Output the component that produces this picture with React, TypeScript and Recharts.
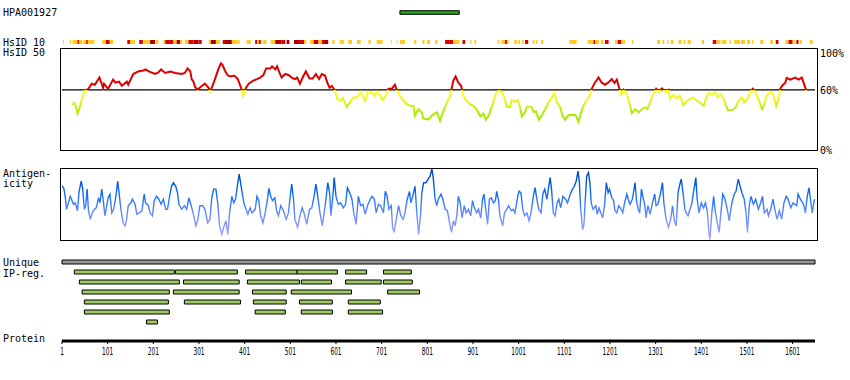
import React from "react";
import { ComposedChart, Line, XAxis, YAxis, ReferenceArea, ReferenceLine } from "recharts";

const PROTEIN_LENGTH = 1650;
const CHART_W = 850;
const PLOT_LEFT = 62;
const PLOT_RIGHT = 35;
const MONO = "'DejaVu Sans Mono', monospace";

// antigen fragment (residue range)
const hpaAntigen: [number, number] = [741, 871];

// HsID 10 stretches: [start, end, level] 1 = yellow, 2 = red, 3 = dark red
const hsid10Segments: [number, number, number][] = [
  [3, 5, 1], [18, 21, 1], [24, 46, 1], [35, 38, 2], [48, 72, 1], [54, 57, 2],
  [89, 113, 1], [97, 105, 2], [144, 150, 2], [150, 161, 1], [170, 178, 2], [179, 194, 1],
  [194, 205, 3], [207, 212, 1], [223, 227, 1], [227, 245, 2], [245, 252, 1], [252, 260, 3],
  [260, 265, 1], [270, 278, 1], [278, 289, 2], [289, 300, 3], [300, 307, 2], [322, 327, 1],
  [327, 338, 3], [338, 347, 1], [353, 358, 2], [358, 373, 3], [373, 384, 1], [385, 390, 1],
  [405, 414, 1], [424, 428, 2], [428, 439, 1], [432, 436, 2], [441, 449, 1], [458, 468, 1],
  [468, 482, 3], [482, 490, 2], [493, 499, 3], [509, 522, 3], [522, 531, 2], [531, 536, 1],
  [544, 552, 1], [552, 563, 2], [563, 570, 1], [570, 580, 2], [576, 584, 3], [593, 598, 1],
  [609, 619, 1], [628, 636, 1], [647, 655, 1], [672, 677, 1], [690, 703, 1], [721, 723, 1],
  [734, 736, 1], [741, 752, 1], [772, 777, 1], [790, 795, 1], [800, 807, 1], [818, 823, 1],
  [840, 858, 2], [858, 871, 1], [878, 884, 2], [895, 898, 1], [904, 908, 1], [955, 959, 1],
  [963, 979, 1], [971, 975, 2], [991, 997, 1], [1000, 1004, 1], [1008, 1012, 1], [1015, 1022, 2],
  [1032, 1036, 1], [1039, 1042, 1], [1050, 1055, 1], [1112, 1128, 1], [1152, 1165, 1],
  [1165, 1169, 2], [1170, 1177, 1], [1181, 1187, 1], [1190, 1198, 2], [1212, 1218, 1],
  [1218, 1226, 2], [1226, 1234, 1], [1249, 1252, 1], [1304, 1311, 1], [1316, 1320, 1],
  [1326, 1329, 1], [1334, 1340, 1], [1351, 1358, 1], [1362, 1366, 1], [1371, 1378, 1],
  [1402, 1407, 1], [1426, 1434, 2], [1435, 1443, 1], [1446, 1456, 1], [1463, 1466, 1],
  [1473, 1486, 1], [1488, 1497, 1], [1501, 1508, 1], [1512, 1515, 1], [1530, 1537, 1],
  [1552, 1558, 1], [1564, 1570, 2], [1585, 1592, 1], [1592, 1601, 2], [1601, 1607, 1],
  [1609, 1614, 2], [1617, 1621, 1], [1639, 1645, 1],
];
const hsid10Colors = ["", "#ffcc22", "#dd0000", "#aa0000"];

// HsID 50 (% identity), [residue, value]
const hsid50: [number, number][] = [
  [24, 45], [28, 47.6], [30, 46], [35, 37], [40, 43], [45, 52], [51, 59], [59, 61], [66, 66], [73, 65],
  [83, 72], [91, 62], [93, 66], [102, 61], [113, 70], [118, 67], [126, 68], [132, 64], [143, 68], [146, 65],
  [157, 75.5], [168, 78], [179, 79], [184, 80], [191, 78], [205, 75.5], [212, 77], [218, 80], [227, 76.5],
  [238, 78], [249, 76.5], [263, 75.5], [270, 76.5], [276, 81], [282, 78], [285, 70.5], [289, 68], [292, 63],
  [298, 60], [305, 63], [314, 66], [322, 62], [325, 58], [330, 63], [336, 70.5], [343, 79.7], [349, 86],
  [352, 85], [358, 78.7], [364, 74], [371, 73], [378, 74], [386, 70.5], [393, 62], [398, 54], [404, 62],
  [410, 66], [420, 69], [428, 70.5], [435, 72], [442, 74.5], [448, 81], [457, 81], [461, 83], [468, 80],
  [472, 83], [477, 77], [482, 72], [490, 75.5], [497, 74.5], [504, 72], [511, 70.5], [516, 72], [522, 66],
  [528, 72], [535, 78], [543, 71], [550, 71], [557, 75.5], [564, 70.5], [570, 75.5], [577, 74], [582, 67],
  [587, 62], [592, 63.7], [599, 59], [604, 51], [612, 49], [616, 52], [625, 43], [630, 47], [639, 52.5],
  [646, 52.5], [655, 58], [665, 49], [670, 57], [680, 57.5], [685, 54], [690, 58], [697, 55], [703, 50],
  [711, 55], [716, 61], [723, 61], [730, 65], [734, 60], [741, 54], [748, 50], [756, 46], [765, 44],
  [771, 44], [774, 34.6], [781, 41], [789, 38], [792, 32], [803, 31], [814, 36], [822, 38], [829, 29.7],
  [835, 38], [844, 47.6], [851, 54], [858, 69], [863, 73], [869, 67], [875, 64], [880, 54], [887, 49],
  [895, 46], [902, 44], [909, 41], [917, 34], [924, 36.6], [929, 30.7], [936, 35], [944, 46], [951, 56],
  [957, 59], [964, 58], [970, 52], [975, 43.7], [982, 43], [986, 50], [993, 48], [999, 50], [1004, 43],
  [1008, 34], [1015, 38], [1019, 43.5], [1029, 43.5], [1034, 38], [1039, 39], [1045, 30.7], [1052, 35],
  [1059, 41], [1066, 47.6], [1074, 52.5], [1079, 57], [1085, 47.6], [1092, 43], [1097, 34.6], [1103, 30.7],
  [1110, 35], [1121, 35.6], [1126, 35], [1132, 28.7], [1138, 38], [1143, 44.4], [1150, 50], [1158, 55],
  [1161, 61], [1168, 67], [1176, 72], [1183, 67], [1190, 65], [1197, 67], [1205, 70.5], [1211, 66.7],
  [1216, 70], [1221, 62], [1226, 55], [1231, 60], [1238, 56], [1244, 46], [1249, 37], [1256, 41],
  [1264, 38], [1271, 41], [1278, 43], [1283, 41], [1289, 47.6], [1295, 55], [1302, 61], [1307, 58],
  [1315, 61.4], [1322, 58], [1329, 60], [1333, 51], [1340, 55], [1347, 51.6], [1354, 54], [1362, 45],
  [1369, 49], [1376, 51], [1384, 52.5], [1391, 49], [1398, 47.6], [1406, 44.4], [1411, 51], [1417, 57],
  [1424, 55], [1432, 57.5], [1437, 52.5], [1444, 56], [1450, 51], [1455, 44.4], [1460, 39.5], [1470, 40.5],
  [1477, 43], [1482, 49], [1490, 52.5], [1495, 47.6], [1502, 51], [1508, 57.5], [1514, 61], [1519, 58],
  [1526, 51], [1534, 41], [1539, 46], [1544, 54], [1552, 58], [1558, 56], [1565, 44.4], [1570, 51],
  [1574, 61], [1578, 64], [1585, 67], [1588, 71.6], [1596, 70], [1601, 71], [1607, 72], [1614, 70],
  [1621, 72], [1625, 67], [1631, 59],
];

// antigenicity (relative score 0-100), [residue, value]
const antigenicity: [number, number][] = [
  [1, 77], [5, 73], [8, 62], [11, 44], [15, 53], [19, 62], [22, 58], [26, 51], [30, 53], [35, 42], [38, 67],
  [43, 83], [46, 74], [50, 44], [53, 49], [56, 72], [59, 42], [63, 30], [67, 39], [72, 44], [76, 46], [81, 60],
  [84, 53], [88, 72], [91, 58], [95, 35], [98, 46], [102, 60], [106, 65], [110, 39], [114, 44], [119, 62],
  [123, 83], [126, 67], [130, 44], [135, 25], [139, 21], [142, 28], [146, 49], [152, 53], [155, 58], [161, 51],
  [165, 37], [170, 39], [176, 42], [181, 65], [184, 53], [190, 49], [194, 39], [199, 35], [203, 56], [208, 62],
  [213, 58], [218, 51], [223, 58], [228, 44], [232, 44], [238, 67], [241, 76], [245, 81], [250, 76], [254, 67],
  [257, 51], [263, 44], [269, 49], [274, 44], [279, 60], [283, 51], [289, 37], [294, 21], [298, 28], [303, 49],
  [309, 49], [314, 44], [320, 25], [325, 30], [329, 60], [333, 72], [338, 72], [342, 53], [346, 21], [351, 9],
  [355, 19], [360, 28], [364, 9], [368, 39], [373, 62], [377, 53], [381, 58], [386, 81], [389, 93], [392, 81],
  [396, 65], [400, 51], [403, 46], [408, 37], [413, 46], [417, 39], [424, 44], [428, 62], [432, 56], [436, 35],
  [441, 25], [446, 39], [451, 58], [454, 73], [458, 62], [462, 56], [467, 60], [471, 42], [475, 35], [480, 49],
  [486, 42], [492, 30], [497, 39], [500, 58], [504, 79], [508, 58], [511, 30], [517, 19], [522, 35], [527, 46],
  [531, 39], [537, 23], [543, 44], [548, 46], [553, 62], [557, 79], [561, 62], [566, 39], [571, 21], [575, 39],
  [579, 58], [583, 81], [587, 67], [590, 35], [595, 69], [597, 88], [601, 62], [606, 51], [611, 53], [617, 46],
  [622, 51], [626, 74], [631, 67], [636, 58], [640, 39], [645, 23], [650, 62], [655, 49], [660, 51], [665, 37],
  [670, 49], [676, 58], [680, 62], [685, 58], [689, 39], [694, 51], [699, 49], [705, 39], [709, 69], [713, 62],
  [717, 44], [722, 49], [725, 19], [728, 12], [733, 30], [738, 49], [743, 35], [748, 30], [752, 39], [757, 58],
  [762, 69], [765, 53], [769, 62], [774, 76], [778, 39], [782, 9], [786, 35], [789, 67], [793, 81], [798, 81],
  [803, 86], [807, 90], [811, 100], [814, 88], [818, 58], [822, 49], [825, 58], [831, 65], [835, 58], [840, 44],
  [845, 42], [851, 21], [854, 12], [858, 28], [862, 21], [866, 37], [869, 62], [873, 53], [877, 32], [882, 49],
  [886, 39], [891, 44], [896, 35], [900, 56], [904, 46], [909, 39], [913, 44], [918, 32], [922, 58], [925, 65],
  [929, 44], [933, 23], [937, 58], [941, 60], [946, 53], [950, 56], [953, 69], [957, 56], [960, 35], [966, 21],
  [970, 39], [975, 44], [979, 49], [985, 42], [989, 44], [993, 39], [999, 62], [1002, 69], [1006, 67], [1010, 44],
  [1014, 35], [1019, 39], [1024, 28], [1028, 39], [1034, 65], [1037, 74], [1041, 58], [1045, 44], [1050, 39],
  [1054, 65], [1058, 72], [1063, 58], [1066, 72], [1070, 88], [1073, 72], [1077, 39], [1081, 35], [1085, 53],
  [1089, 58], [1093, 46], [1098, 62], [1104, 58], [1108, 53], [1114, 65], [1119, 72], [1123, 76], [1127, 83],
  [1131, 97], [1134, 81], [1137, 44], [1141, 16], [1144, 23], [1147, 58], [1150, 90], [1154, 95], [1157, 81],
  [1160, 53], [1164, 44], [1170, 49], [1173, 37], [1177, 46], [1181, 39], [1185, 32], [1189, 49], [1193, 81],
  [1197, 67], [1200, 72], [1205, 60], [1209, 56], [1212, 42], [1216, 39], [1220, 49], [1224, 46], [1229, 39],
  [1233, 53], [1238, 65], [1241, 58], [1245, 51], [1250, 58], [1256, 81], [1259, 56], [1263, 44], [1266, 39],
  [1270, 72], [1273, 62], [1277, 51], [1280, 32], [1284, 49], [1289, 37], [1294, 53], [1299, 65], [1302, 49],
  [1306, 51], [1312, 67], [1316, 81], [1319, 53], [1324, 30], [1329, 19], [1334, 30], [1338, 49], [1342, 28],
  [1346, 21], [1350, 67], [1353, 76], [1357, 86], [1361, 67], [1365, 44], [1368, 39], [1372, 35], [1377, 46],
  [1380, 51], [1385, 72], [1389, 88], [1392, 58], [1396, 39], [1401, 53], [1406, 46], [1410, 53], [1414, 42],
  [1418, 9], [1420, 2], [1424, 39], [1428, 62], [1431, 44], [1435, 28], [1440, 12], [1444, 39], [1448, 65],
  [1453, 58], [1458, 44], [1462, 28], [1468, 53], [1473, 65], [1477, 69], [1482, 86], [1486, 76], [1490, 67],
  [1495, 58], [1499, 39], [1502, 12], [1506, 49], [1510, 62], [1515, 51], [1520, 58], [1526, 44], [1531, 53],
  [1535, 62], [1539, 39], [1545, 44], [1548, 35], [1553, 44], [1558, 58], [1562, 44], [1567, 30], [1572, 42],
  [1577, 30], [1582, 53], [1587, 62], [1591, 58], [1597, 46], [1602, 53], [1610, 49], [1613, 65], [1618, 58],
  [1625, 51], [1629, 39], [1633, 62], [1637, 74], [1640, 58], [1644, 39], [1648, 56], [1650, 58],
];

// unique IP regions, one list per row
const uniqueRegion: [number, number] = [1, 1650];
const ipRegRows: [number, number][][] = [
  [[28, 247], [249, 385], [403, 516], [516, 604], [622, 668], [705, 766]],
  [[39, 258], [267, 389], [407, 521], [525, 591], [622, 700], [705, 768]],
  [[45, 236], [245, 389], [418, 492], [503, 635], [714, 784]],
  [[50, 234], [269, 392], [420, 492], [521, 593], [628, 698]],
  [[50, 236], [424, 490], [525, 593], [628, 703]],
  [[186, 210]],
];

const proteinTicks = [1, 101, 201, 301, 401, 501, 601, 701, 801, 901, 1001, 1101, 1201, 1301, 1401, 1501, 1601];
const percentTicks = [0, 60, 100];

const hsid50Data = hsid50.map(([pos, v]) => ({ pos, v }));
const antigenData = antigenicity.map(([pos, v]) => ({ pos, v }));
const domainData = [{ pos: 1 }, { pos: PROTEIN_LENGTH }];

const margin = { top: 0, right: PLOT_RIGHT, bottom: 0, left: PLOT_LEFT };

function Track({ top, height, yDomain, reversed, data, children }: any) {
  return (
    <div style={{ position: "absolute", left: 0, top }}>
      <ComposedChart width={CHART_W} height={height} data={data ?? domainData} margin={margin}>
        <XAxis type="number" dataKey="pos" domain={[1, PROTEIN_LENGTH]} hide allowDataOverflow />
        <YAxis type="number" domain={yDomain} hide reversed={reversed} allowDataOverflow />
        {children}
      </ComposedChart>
    </div>
  );
}

const PercentTick = (props: any) => {
  const { x, y, payload } = props;
  const dy = payload.value === 100 ? 7.5 : payload.value === 0 ? 3 : 4;
  return (
    <text x={x} y={y + dy} fontFamily={MONO} fontSize={10} fill="#000">
      {payload.value}%
    </text>
  );
};

const ProteinTick = (props: any) => {
  const { x, y, payload } = props;
  const s = String(payload.value);
  return (
    <text x={x} y={y + 9} textAnchor="middle" fontFamily="'DejaVu Sans'" fontSize={11} fill="#000"
      textLength={s.length * 3.7} lengthAdjust="spacingAndGlyphs">
      {s}
    </text>
  );
};

const frame = (top: number, height: number): React.CSSProperties => ({
  position: "absolute", left: 60, top, width: 758, height, border: "1px solid #000", boxSizing: "border-box",
});

const HS_TOP = 6;
const HS_H = 102;

export default function App() {
  return (
    <div style={{ position: "absolute", left: 0, top: 0, width: CHART_W, height: 380, background: "#fff", overflow: "hidden" }}>
      <svg width={CHART_W} height={380} style={{ position: "absolute", left: 0, top: 0 }}>
        <g fontFamily={MONO} fontSize={10} fill="#000">
          <text x={3} y={15.5}>HPA001927</text>
          <text x={3} y={45.5}>HsID 10</text>
          <text x={3} y={55.5}>HsID 50</text>
          <text x={3} y={177}>Antigen-</text>
          <text x={3} y={187}>icity</text>
          <text x={3} y={265.5}>Unique</text>
          <text x={3} y={276.5}>IP-reg.</text>
          <text x={3} y={342}>Protein</text>
        </g>
      </svg>

      {/* antigen fragment */}
      <Track top={8} height={9} yDomain={[0, 1]}>
        <ReferenceArea x1={hpaAntigen[0]} x2={hpaAntigen[1]} y1={0.3} y2={0.7} fill="#1ea51e" fillOpacity={1} stroke="#000" strokeWidth={1} />
      </Track>

      {/* HsID 10 strip */}
      <Track top={40} height={4} yDomain={[0, 1]}>
        {hsid10Segments.map(([a, b, lvl], i) => (
          <ReferenceArea key={i} x1={a} x2={b} y1={0} y2={1} fill={hsid10Colors[lvl]} fillOpacity={1} stroke="none" />
        ))}
      </Track>

      {/* HsID 50 */}
      <div style={frame(48, 103)} />
      <div style={{ position: "absolute", left: 0, top: 48.5 - HS_TOP }}>
        <ComposedChart width={CHART_W} height={HS_H + HS_TOP + 10} data={hsid50Data}
          margin={{ top: HS_TOP, right: 0, bottom: 10, left: PLOT_LEFT }}>
          <defs>
            <linearGradient id="hsidGrad" x1={0} y1={HS_TOP} x2={0} y2={HS_TOP + HS_H} gradientUnits="userSpaceOnUse">
              <stop offset={0} stopColor="#dd0000" />
              <stop offset={0.4} stopColor="#dd0000" />
              <stop offset={0.4} stopColor="#ffff22" />
              <stop offset={0.5} stopColor="#eef422" />
              <stop offset={0.62} stopColor="#aaee00" />
              <stop offset={1} stopColor="#88dd00" />
            </linearGradient>
          </defs>
          <XAxis type="number" dataKey="pos" domain={[1, PROTEIN_LENGTH]} hide allowDataOverflow />
          <YAxis type="number" domain={[0, 100]} orientation="right" width={PLOT_RIGHT} ticks={percentTicks}
            axisLine={false} tickLine={false} tickSize={0} tickMargin={5} tick={<PercentTick />} interval={0} />
          <ReferenceLine y={60} stroke="#000" strokeWidth={1.2} />
          <Line type="linear" dataKey="v" stroke="url(#hsidGrad)" strokeWidth={2} dot={false} isAnimationActive={false} />
        </ComposedChart>
      </div>

      {/* antigenicity */}
      <div style={frame(168, 73)} />
      <div style={{ position: "absolute", left: 0, top: 168.5 }}>
        <ComposedChart width={CHART_W} height={72} data={antigenData} margin={margin}>
          <defs>
            <linearGradient id="antiGrad" x1={0} y1={0} x2={0} y2={72} gradientUnits="userSpaceOnUse">
              <stop offset={0} stopColor="#0040a8" />
              <stop offset={0.25} stopColor="#0060e8" />
              <stop offset={0.45} stopColor="#2d78ff" />
              <stop offset={0.65} stopColor="#6c8cff" />
              <stop offset={1} stopColor="#b0a4ff" />
            </linearGradient>
          </defs>
          <XAxis type="number" dataKey="pos" domain={[1, PROTEIN_LENGTH]} hide allowDataOverflow />
          <YAxis type="number" domain={[0, 100]} hide allowDataOverflow />
          <Line type="linear" dataKey="v" stroke="url(#antiGrad)" strokeWidth={1.4} dot={false} isAnimationActive={false} />
        </ComposedChart>
      </div>

      {/* unique / IP regions */}
      <Track top={257} height={70} yDomain={[0, 7]} reversed>
        <ReferenceArea x1={uniqueRegion[0]} x2={uniqueRegion[1]} y1={0.3} y2={0.7} fill="#999999" fillOpacity={1} stroke="#000" strokeWidth={1} />
        {ipRegRows.flatMap((row, r) =>
          row.map(([a, b], i) => (
            <ReferenceArea key={`${r}-${i}`} x1={a} x2={b} y1={r + 1.3} y2={r + 1.7} fill="#9fca62" fillOpacity={1} stroke="#000" strokeWidth={1} />
          ))
        )}
      </Track>

      {/* protein axis */}
      <div style={{ position: "absolute", left: 0, top: 330 }}>
        <ComposedChart width={CHART_W} height={34} data={domainData} margin={margin}>
          <XAxis type="number" dataKey="pos" domain={[1, PROTEIN_LENGTH]} ticks={proteinTicks} interval={0}
            height={23} axisLine={{ stroke: "#000", strokeWidth: 3 }} tickLine={{ stroke: "#000" }} tickSize={3}
            tick={<ProteinTick />} allowDataOverflow />
          <YAxis type="number" domain={[0, 1]} hide />
        </ComposedChart>
      </div>
    </div>
  );
}
